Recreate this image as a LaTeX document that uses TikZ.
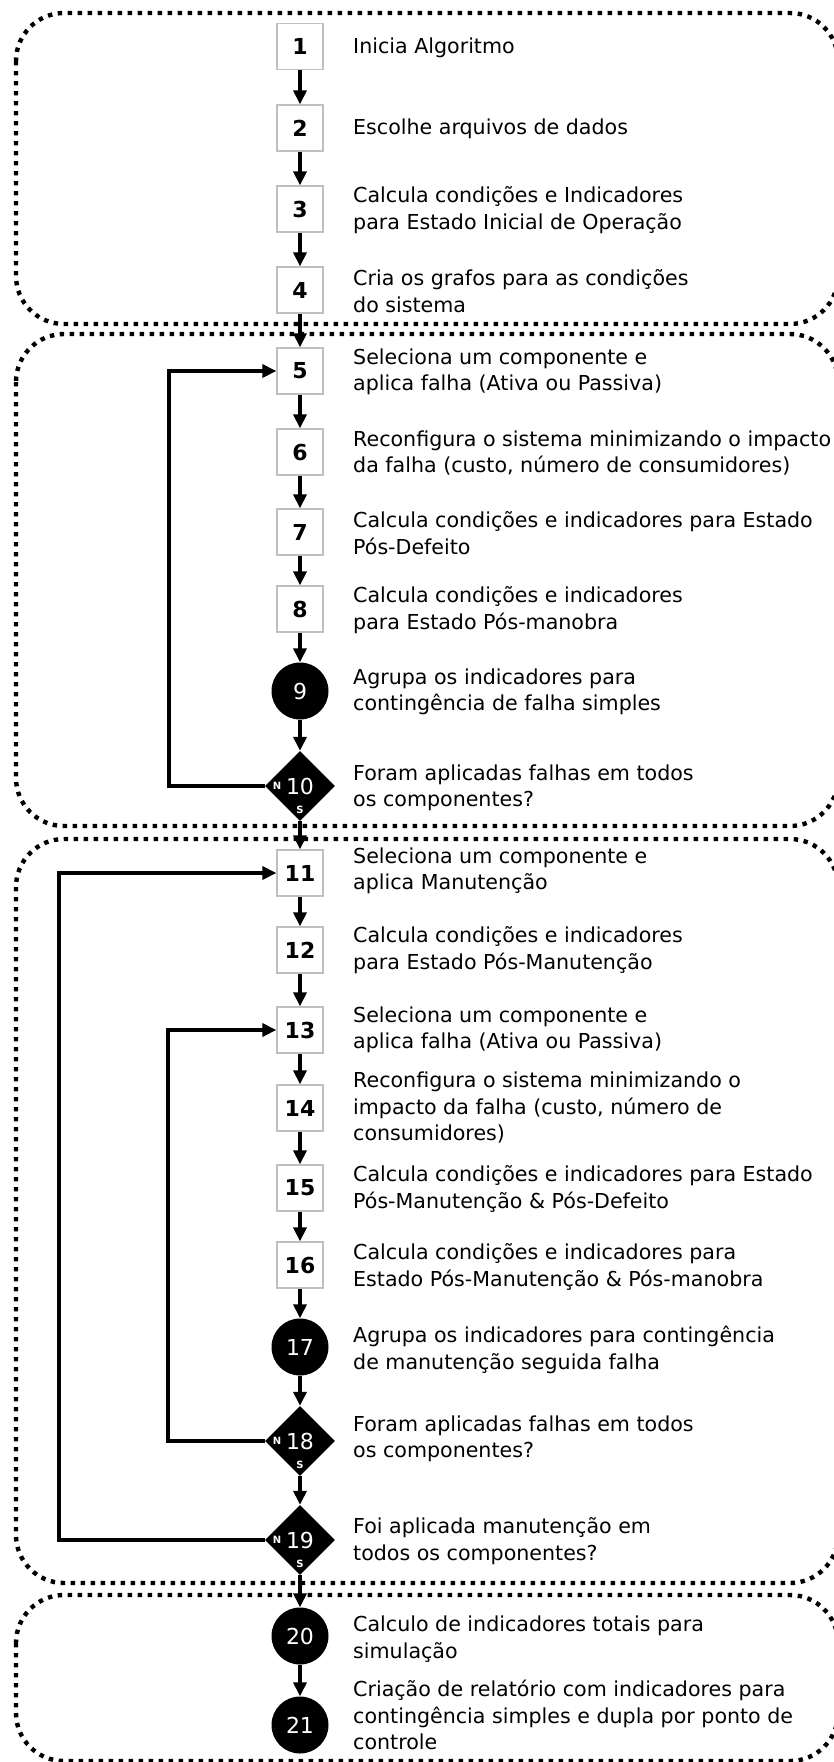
\documentclass[tikz,border=0pt]{standalone}
\usepackage{fontspec}
\setmainfont{DejaVu Sans}
\usetikzlibrary{shapes.geometric,arrows.meta}

\begin{document}
\begin{tikzpicture}[x=1pt,y=-1pt,
  stepbox/.style={draw=black!25, line width=1.3pt, fill=white,
    minimum width=46pt, minimum height=46pt, inner sep=0pt,
    font=\fontsize{22}{22}\selectfont\bfseries},
  groupdot/.style={circle, fill=black, minimum size=57pt, inner sep=0pt,
    text=white, font=\fontsize{22}{22}\selectfont},
  decision/.style={diamond, fill=black, minimum width=70pt, minimum height=70pt,
    inner sep=0pt, text=white, font=\fontsize{22}{22}\selectfont},
  nsmark/.style={text=white, inner sep=0pt, font=\fontsize{10}{10}\selectfont\bfseries},
  desc/.style={anchor=west, align=left, inner sep=0pt,
    font=\fontsize{20.6}{26.5}\selectfont},
  flow/.style={line width=4pt, -{Triangle[width=13pt,length=14pt]}},
  stage/.style={line width=4.4pt, dash pattern=on 4.4pt off 5.6pt, rounded corners=48pt},
]
\useasboundingbox (0,0) rectangle (834,1762);
\fill[white] (0,0) rectangle (834,1762);
\clip (0,0) rectangle (834,1762);

% stage frames
\draw[stage] (16,13) rectangle (838,324);
\draw[stage] (16,334) rectangle (838,826);
\draw[stage] (16,839) rectangle (838,1583);
\draw[stage] (16,1595) rectangle (838,1761);

% steps
\node[stepbox] (b1) at (300,46.5) {1};
\node[stepbox] (b2) at (300,128) {2};
\node[stepbox] (b3) at (300,209) {3};
\node[stepbox] (b4) at (300,290) {4};
\node[stepbox] (b5) at (300,371) {5};
\node[stepbox] (b6) at (300,452) {6};
\node[stepbox] (b7) at (300,532) {7};
\node[stepbox] (b8) at (300,609) {8};
\node[groupdot] (c9) at (300,691) {9};
\node[decision] (d10) at (300,786) {10};
\node[stepbox] (b11) at (300,873) {11};
\node[stepbox] (b12) at (300,950) {12};
\node[stepbox] (b13) at (300,1030) {13};
\node[stepbox] (b14) at (300,1108) {14};
\node[stepbox] (b15) at (300,1188) {15};
\node[stepbox] (b16) at (300,1265) {16};
\node[groupdot] (c17) at (300,1347) {17};
\node[decision] (d18) at (300,1441) {18};
\node[decision] (d19) at (300,1540) {19};
\node[groupdot] (c20) at (300,1636) {20};
\node[groupdot] (c21) at (300,1725) {21};

% yes / no marks on the decisions
\foreach \d in {d10,d18,d19}{
  \path (\d.center) ++(-23,0) node[nsmark] {N};
  \path (\d.center) ++(0,24) node[nsmark] {S};
}

% descriptions
\node[desc] (t1) at (353,48) {Inicia Algoritmo};
\node[desc] (t2) at (353,129) {Escolhe arquivos de dados};
\node[desc] (t3) at (353,210) {Calcula condições e Indicadores\\para Estado Inicial de Operação};
\node[desc] (t4) at (353,291) {Cria os grafos para as condições\\do sistema};
\node[desc] (t5) at (353,372) {Seleciona um componente e\\aplica falha (Ativa ou Passiva)};
\node[desc] (t6) at (353,453) {Reconfigura o sistema minimizando o impacto\\da falha (custo, número de consumidores)};
\node[desc] (t7) at (353,533) {Calcula condições e indicadores para Estado\\Pós-Defeito};
\node[desc] (t8) at (353,610) {Calcula condições e indicadores\\para Estado Pós-manobra};
\node[desc] (t9) at (353,692) {Agrupa os indicadores para\\contingência de falha simples};
\node[desc] (t10) at (353,788) {Foram aplicadas falhas em todos\\os componentes?};
\node[desc] (t11) at (353,871) {Seleciona um componente e\\aplica Manutenção};
\node[desc] (t12) at (353,950) {Calcula condições e indicadores\\para Estado Pós-Manutenção};
\node[desc] (t13) at (353,1030) {Seleciona um componente e\\aplica falha (Ativa ou Passiva)};
\node[desc] (t14) at (353,1108) {Reconfigura o sistema minimizando o\\impacto da falha (custo, número de\\consumidores)};
\node[desc] (t15) at (353,1189) {Calcula condições e indicadores para Estado\\Pós-Manutenção \& Pós-Defeito};
\node[desc] (t16) at (353,1267) {Calcula condições e indicadores para\\Estado Pós-Manutenção \& Pós-manobra};
\node[desc] (t17) at (353,1350) {Agrupa os indicadores para contingência\\de manutenção seguida falha};
\node[desc] (t18) at (353,1439) {Foram aplicadas falhas em todos\\os componentes?};
\node[desc] (t19) at (353,1541) {Foi aplicada manutenção em\\todos os componentes?};
\node[desc] (t20) at (353,1639) {Calculo de indicadores totais para\\simulação};
\node[desc] (t21) at (353,1715) {Criação de relatório com indicadores para\\contingência simples e dupla por ponto de\\controle};

% main flow
\draw[flow] (b1) -- (b2);
\draw[flow] (b2) -- (b3);
\draw[flow] (b3) -- (b4);
\draw[flow] (b4) -- (b5);
\draw[flow] (b5) -- (b6);
\draw[flow] (b6) -- (b7);
\draw[flow] (b7) -- (b8);
\draw[flow] (b8) -- (c9);
\draw[flow] (c9) -- (d10);
\draw[flow] (d10.south) -- (b11);
\draw[flow] (b11) -- (b12);
\draw[flow] (b12) -- (b13);
\draw[flow] (b13) -- (b14);
\draw[flow] (b14) -- (b15);
\draw[flow] (b15) -- (b16);
\draw[flow] (b16) -- (c17);
\draw[flow] (c17) -- (d18);
\draw[flow] (d18.south) -- (d19);
\draw[flow] (d19.south) -- (c20);
\draw[flow] (c20) -- (c21);

% repeat loops
\draw[flow] (d10.west) -- ++(-96,0) |- (b5.west);
\draw[flow] (d18.west) -- ++(-97,0) |- (b13.west);
\draw[flow] (d19.west) -- ++(-206,0) |- (b11.west);
\end{tikzpicture}
\end{document}
